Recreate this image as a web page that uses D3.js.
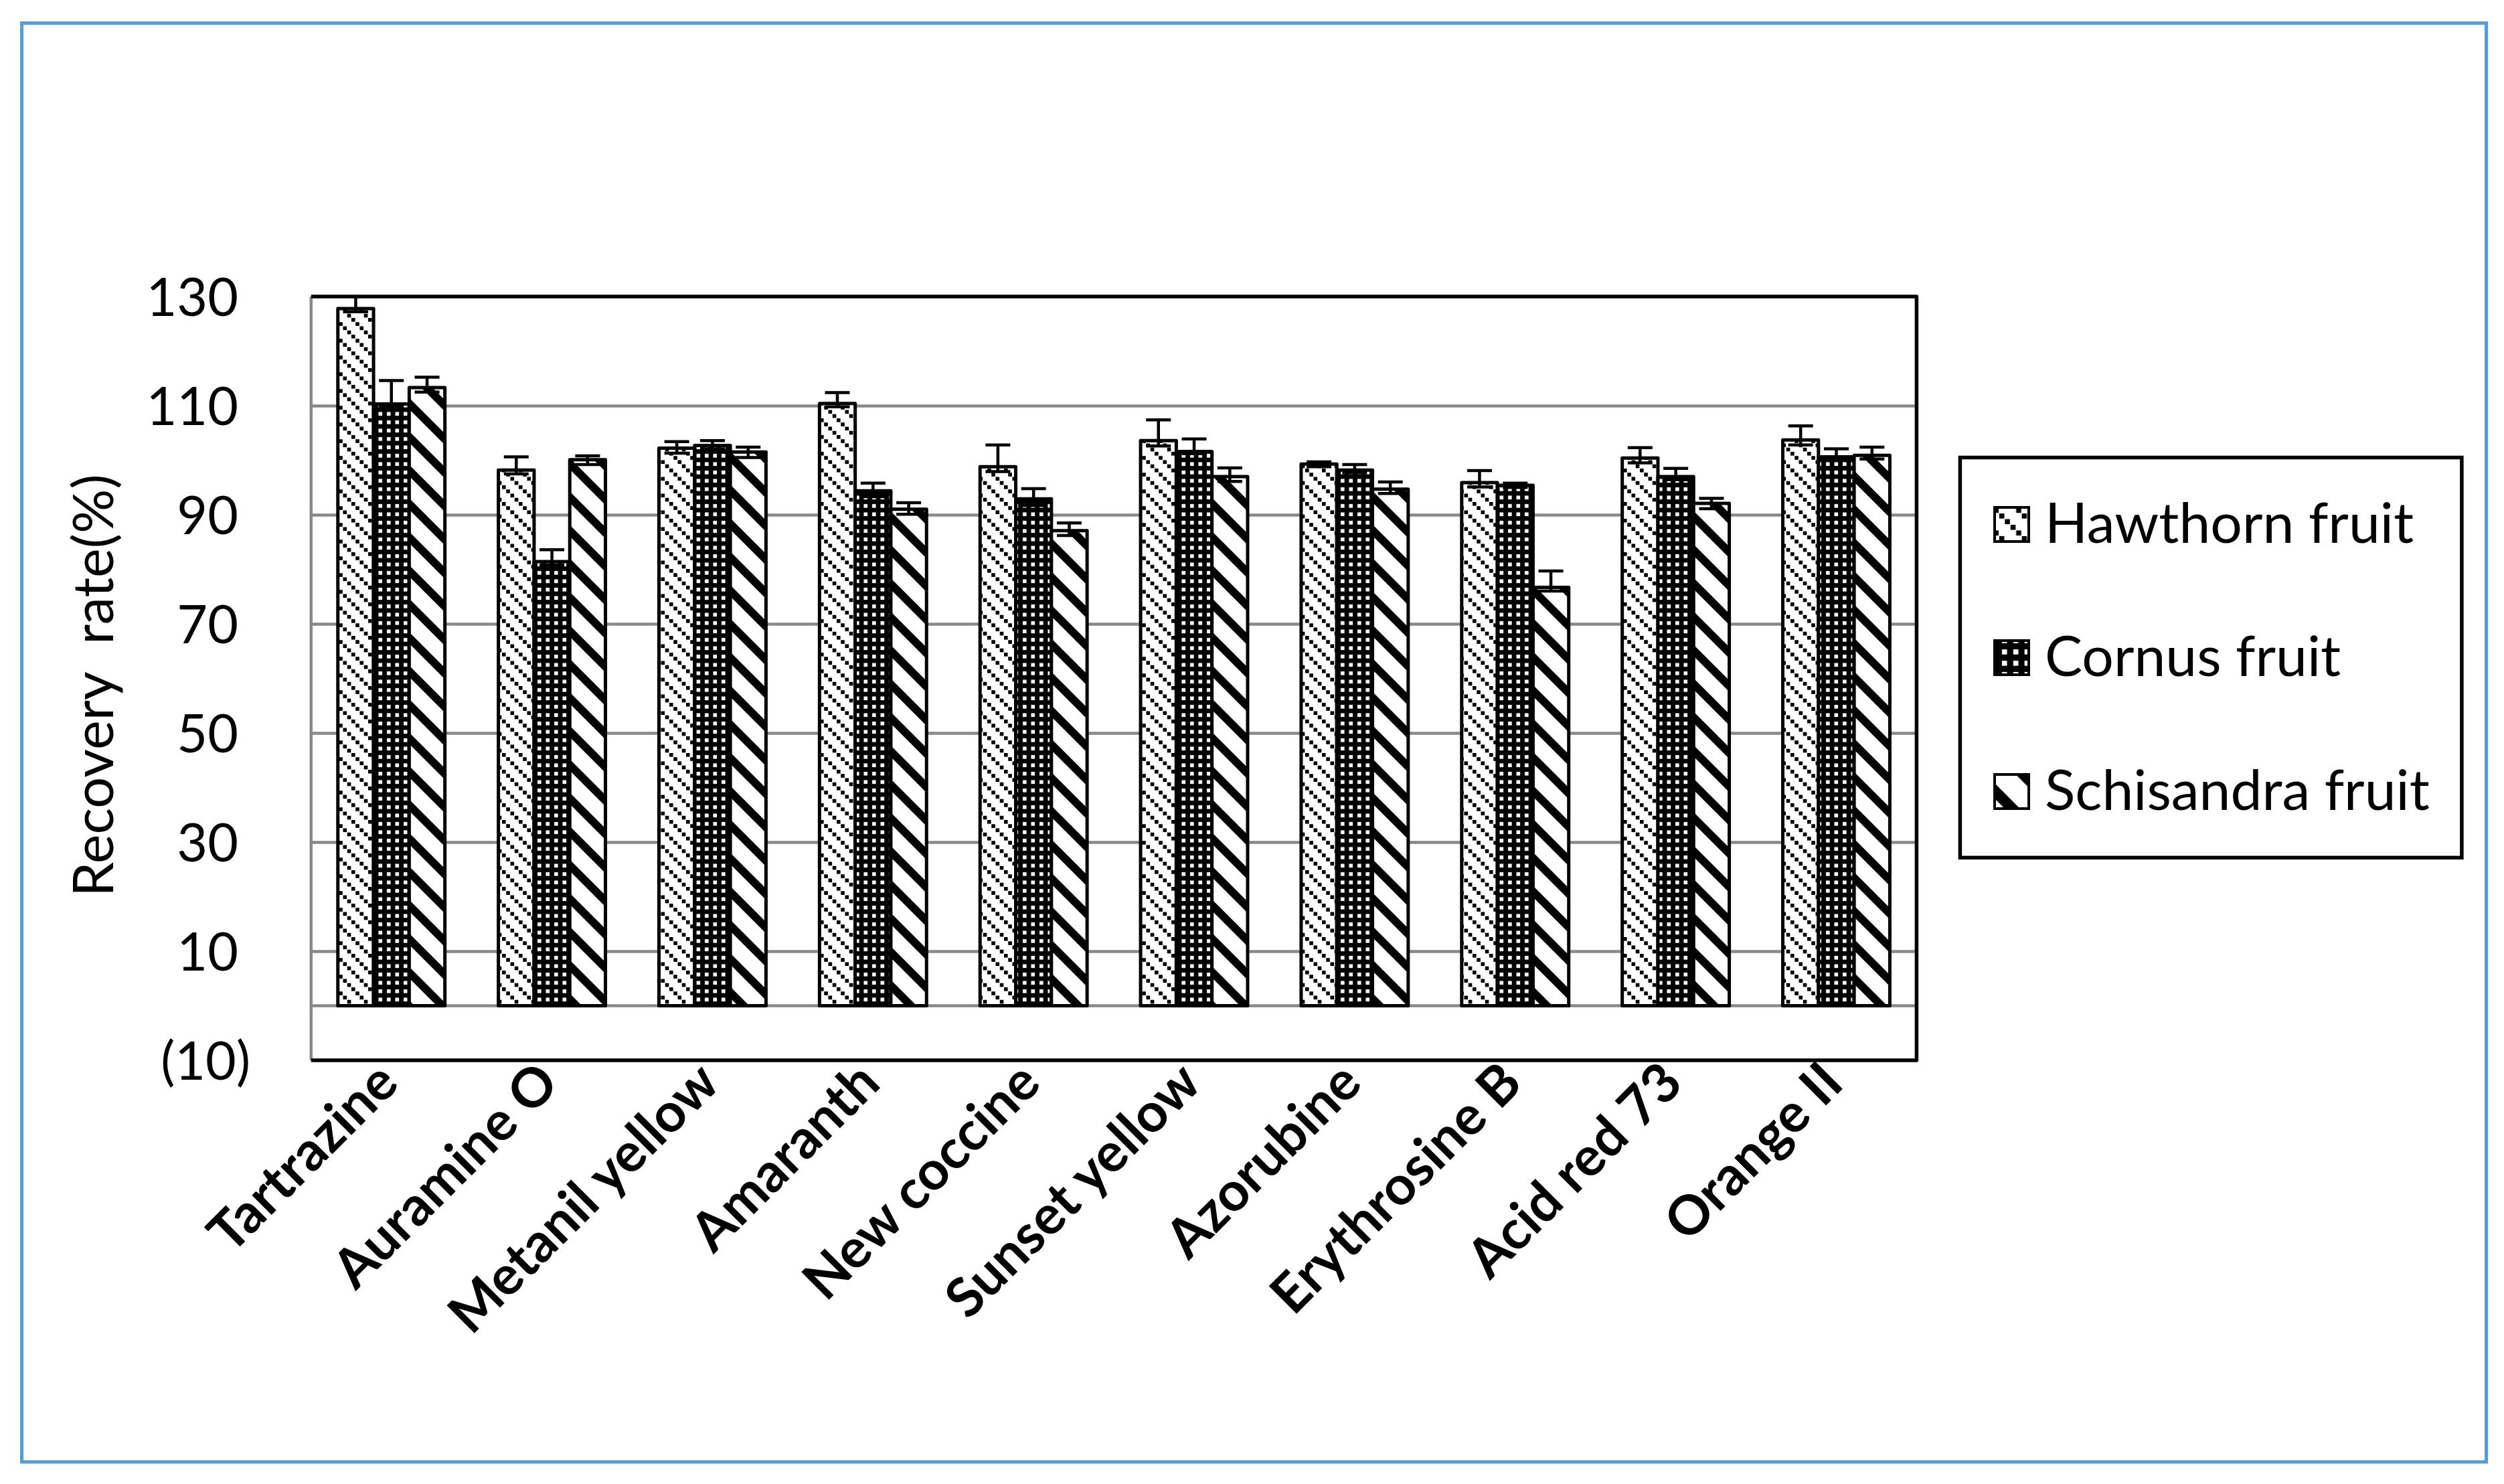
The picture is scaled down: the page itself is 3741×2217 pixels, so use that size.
<!DOCTYPE html>
<html>
<head>
<meta charset="utf-8">
<script src="https://cdn.jsdelivr.net/npm/d3@7"></script>
<style>
  html, body { margin: 0; padding: 0; background: #ffffff; }
  svg { display: block; }
</style>
</head>
<body>
<script>
// ---------------- DATA ----------------
const categories = ["Tartrazine", "Auramine O", "Metanil yellow", "Amaranth", "New coccine",
                    "Sunset yellow", "Azorubine", "Erythrosine B", "Acid red 73", "Orange II"];
const seriesNames = ["Hawthorn fruit", "Cornus fruit", "Schisandra fruit"];

const hawthorn   = [127.8, 98.2, 102.2, 110.4, 98.8, 103.6, 99.3, 95.9, 100.4, 103.7];
const cornus     = [110.3, 81.4, 102.7, 94.4, 92.9, 101.6, 98.2, 95.4, 97.0, 100.6];
const schisandra = [113.3, 100.1, 101.5, 91.0, 87.1, 97.0, 94.7, 76.7, 92.1, 100.9];

const hawthornErrPlus    = [2.5, 2.4, 1.2, 2.0, 4.0, 3.8, 0.4, 2.2, 1.9, 2.6];
const hawthornErrMinus   = [0.6, 0.7, 0.9, 0.6, 0.9, 1.0, 0.5, 0.8, 0.9, 0.9];
const cornusErrPlus      = [4.3, 2.2, 0.9, 1.4, 1.9, 2.3, 1.0, 0.4, 1.5, 1.5];
const cornusErrMinus     = [0.5, 0.6, 0.6, 1.1, 1.2, 0.4, 0.5, 0.4, 0.6, 0.4];
const schisandraErrPlus  = [1.9, 0.7, 0.9, 1.2, 1.4, 1.6, 1.3, 3.0, 0.9, 1.5];
const schisandraErrMinus = [0.8, 0.9, 1.0, 0.9, 0.9, 0.9, 0.8, 0.7, 1.0, 0.7];

const yTicks = [130, 110, 90, 70, 50, 30, 10, -10];
const yDomain = [-10, 130];
const yTitle = "Recovery  rate(%)";

// ---------------- LAYOUT ----------------
const W = 3741, H = 2217;
const plot = { left: 464.8, right: 2863.4, top: 443, bottom: 1584 };
const GRID = "#898989";
const FONT = "Lato, 'Open Sans', sans-serif";

const svg = d3.select("body").append("svg")
  .attr("width", W).attr("height", H)
  .attr("viewBox", `0 0 ${W} ${H}`);

svg.append("rect").attr("width", W).attr("height", H).attr("fill", "#ffffff");

// outer blue frame
svg.append("rect")
  .attr("x", 32.5).attr("y", 34.5)
  .attr("width", 3714.5 - 32.5).attr("height", 2184 - 34.5)
  .attr("fill", "none").attr("stroke", "#5b9bd5").attr("stroke-width", 5);

// ---------------- PATTERNS ----------------
const defs = svg.append("defs");
function makePatterns(suffix, scale) {
  // Hawthorn: light downward diagonal (dotted)
  const p1 = defs.append("pattern").attr("id", "pHaw" + suffix)
    .attr("patternUnits", "userSpaceOnUse").attr("width", 25).attr("height", 25)
    .attr("patternTransform", `scale(${scale})`);
  p1.append("rect").attr("width", 25).attr("height", 25).attr("fill", "#fff");
  for (let i = 0; i < 4; i++) {
    p1.append("rect").attr("x", i * 6.25).attr("y", i * 6.25)
      .attr("width", 5.6).attr("height", 5.6).attr("fill", "#000");
  }
  // Cornus: 75% (black with white holes)
  const p2 = defs.append("pattern").attr("id", "pCor" + suffix)
    .attr("patternUnits", "userSpaceOnUse").attr("width", 12.5).attr("height", 12.5)
    .attr("patternTransform", `scale(${scale})`);
  p2.append("rect").attr("width", 12.5).attr("height", 12.5).attr("fill", "#000");
  p2.append("rect").attr("x", 3).attr("y", 3).attr("width", 5.6).attr("height", 5.6).attr("fill", "#fff");
  // Schisandra: wide downward diagonal
  const p3 = defs.append("pattern").attr("id", "pSch" + suffix)
    .attr("patternUnits", "userSpaceOnUse").attr("width", 50).attr("height", 50)
    .attr("patternTransform", `scale(${scale})`);
  p3.append("rect").attr("width", 50).attr("height", 50).attr("fill", "#fff");
  p3.append("polygon").attr("points", "0,0 17,0 50,33 50,50").attr("fill", "#000");
  p3.append("polygon").attr("points", "0,33 17,50 0,50").attr("fill", "#000");
}
makePatterns("", 1);
makePatterns("L", 1.35);
const patternIds = ["pHaw", "pCor", "pSch"];

defs.append("clipPath").attr("id", "plotClip")
  .append("rect").attr("x", plot.left).attr("y", plot.top)
  .attr("width", plot.right - plot.left).attr("height", plot.bottom - plot.top);

// ---------------- SCALES ----------------
const x0 = d3.scaleBand().domain(categories).range([plot.left, plot.right])
  .paddingInner(1 / 3).paddingOuter(1 / 6);
const x1 = d3.scaleBand().domain(seriesNames).range([0, x0.bandwidth()]).padding(0);
const y = d3.scaleLinear().domain(yDomain).range([plot.bottom, plot.top]);

// ---------------- GRID ----------------
const gridG = svg.append("g").attr("transform", `translate(${plot.left},0)`)
  .call(d3.axisLeft(y).tickValues(yTicks.filter(t => t !== 130 && t !== -10))
    .tickSize(-(plot.right - plot.left)).tickFormat(""));
gridG.select(".domain").remove();
gridG.selectAll(".tick line").attr("stroke", GRID).attr("stroke-width", 4.5);

// zero (category) axis line
svg.append("line")
  .attr("x1", plot.left).attr("x2", plot.right)
  .attr("y1", y(0)).attr("y2", y(0))
  .attr("stroke", GRID).attr("stroke-width", 4.5);

// ---------------- BARS ----------------
const values = [hawthorn, cornus, schisandra];
const errPlus = [hawthornErrPlus, cornusErrPlus, schisandraErrPlus];
const errMinus = [hawthornErrMinus, cornusErrMinus, schisandraErrMinus];

const rows = [];
categories.forEach((c, i) => {
  seriesNames.forEach((s, j) => {
    rows.push({ cat: c, ser: s, j: j, v: values[j][i], ep: errPlus[j][i], em: errMinus[j][i] });
  });
});

svg.append("g").selectAll("rect").data(rows).join("rect")
  .attr("x", d => x0(d.cat) + x1(d.ser))
  .attr("y", d => y(d.v))
  .attr("width", x1.bandwidth())
  .attr("height", d => y(0) - y(d.v))
  .attr("fill", d => `url(#${patternIds[d.j]})`)
  .attr("stroke", "#000").attr("stroke-width", 5)
  .attr("stroke-linejoin", "round");

// ---------------- ERROR BARS ----------------
const capW = 37;
const errG = svg.append("g").attr("clip-path", "url(#plotClip)")
  .attr("stroke", "#000").attr("stroke-width", 4.5).attr("fill", "none");
const eb = errG.selectAll("g").data(rows).join("g")
  .attr("transform", d => `translate(${x0(d.cat) + x1(d.ser) + x1.bandwidth() / 2},0)`);
eb.append("line").attr("x1", 0).attr("x2", 0)
  .attr("y1", d => y(d.v - d.em)).attr("y2", d => y(d.v + d.ep));
eb.append("line").attr("x1", -capW / 2).attr("x2", capW / 2)
  .attr("y1", d => y(d.v + d.ep)).attr("y2", d => y(d.v + d.ep));
eb.append("line").attr("x1", -capW / 2).attr("x2", capW / 2)
  .attr("y1", d => y(d.v - d.em)).attr("y2", d => y(d.v - d.em));

// ---------------- FRAME ----------------
svg.append("line")
  .attr("x1", plot.left).attr("x2", plot.left)
  .attr("y1", plot.top).attr("y2", plot.bottom)
  .attr("stroke", GRID).attr("stroke-width", 4.5);
svg.append("path")
  .attr("d", `M${plot.left},${plot.top} H${plot.right} V${plot.bottom} H${plot.left}`)
  .attr("fill", "none").attr("stroke", "#000").attr("stroke-width", 5.5)
  .attr("stroke-linejoin", "round");

// ---------------- Y AXIS ----------------
const yAxisG = svg.append("g").attr("transform", `translate(${plot.left},0)`)
  .call(d3.axisLeft(y).tickValues(yTicks).tickSize(0)
    .tickFormat(d => d < 0 ? `(${Math.abs(d)})` : `${d}`));
yAxisG.select(".domain").remove();
yAxisG.selectAll(".tick text")
  .attr("x", d => d < 0 ? 374 - plot.left : 356 - plot.left)
  .attr("dy", "0.36em")
  .style("font-family", FONT).style("font-size", "79px").attr("fill", "#000")
  .style("text-anchor", "end");

svg.append("text")
  .attr("transform", `translate(169,1024) rotate(-90)`)
  .style("text-anchor", "middle").style("white-space", "pre")
  .style("font-family", FONT).style("font-size", "83px").attr("fill", "#000")
  .text(yTitle);

// ---------------- X AXIS ----------------
const xAxisG = svg.append("g").attr("transform", `translate(0,${plot.bottom})`)
  .call(d3.axisBottom(x0).tickSize(0));
xAxisG.select(".domain").remove();
xAxisG.selectAll(".tick text")
  .attr("x", 0).attr("y", 0).attr("dy", null)
  .attr("transform", "translate(14,38) rotate(-45)")
  .style("text-anchor", "end")
  .style("font-family", FONT).style("font-size", "81px").style("font-weight", "bold")
  .attr("fill", "#000");

// ---------------- LEGEND ----------------
svg.append("rect")
  .attr("x", 2928.4).attr("y", 683.5).attr("width", 749.5).attr("height", 597.8)
  .attr("fill", "#fff").attr("stroke", "#000").attr("stroke-width", 5.5);
const legendCenters = [784, 983, 1183];
const lg = svg.append("g").selectAll("g").data(seriesNames).join("g")
  .attr("transform", (d, i) => `translate(0,${legendCenters[i]})`);
lg.append("rect")
  .attr("x", 2980).attr("y", -26).attr("width", 51).attr("height", 51)
  .attr("fill", (d, i) => `url(#${patternIds[i]}L)`)
  .attr("stroke", "#000").attr("stroke-width", 4);
lg.append("text")
  .attr("x", 3055).attr("y", 27)
  .style("font-family", FONT).style("font-size", "84px").attr("fill", "#000")
  .text(d => d);
</script>
</body>
</html>
